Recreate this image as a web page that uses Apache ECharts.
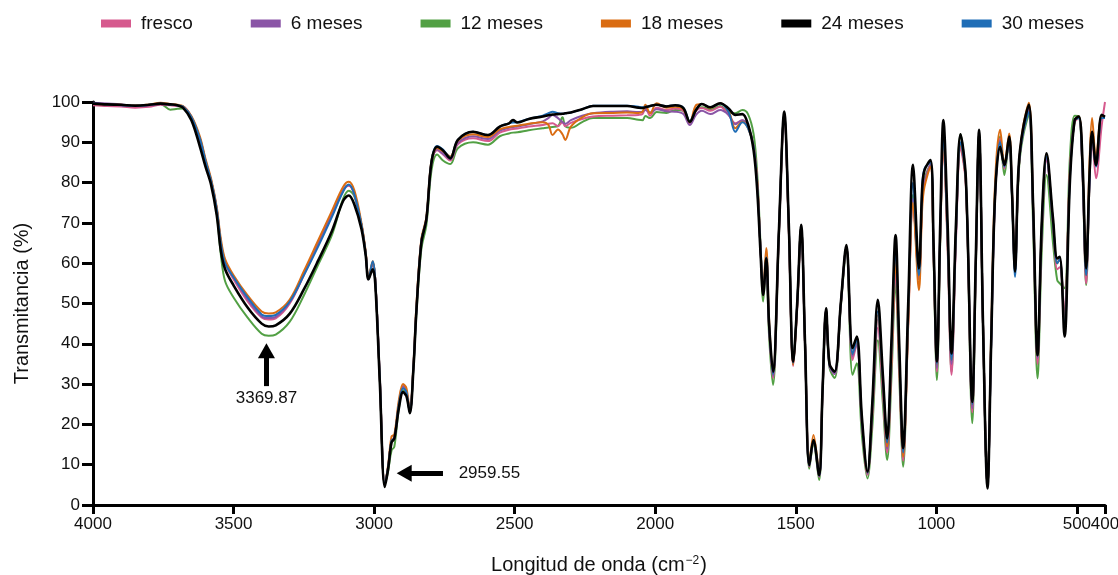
<!DOCTYPE html>
<html>
<head>
<meta charset="utf-8">
<style>
  html, body { margin: 0; padding: 0; background: #fff; }
  #chart { width: 1118px; height: 575px; }
</style>
<script src="https://cdn.jsdelivr.net/npm/echarts@6.0.0/dist/echarts.min.js"></script>
</head>
<body>
<div id="chart"></div>
<script>
// numero de onda (cm-1), comun a todas las muestras
const wavenumber = [
  4000, 3950, 3900, 3850, 3800, 3760, 3725, 3700, 3680, 3650,
  3620, 3600, 3580, 3560, 3545, 3530, 3500, 3450, 3400, 3375,
  3350, 3300, 3250, 3200, 3150, 3110, 3090, 3070, 3045, 3030,
  3020, 3005, 2996, 2980, 2962, 2950, 2938, 2928, 2912, 2897,
  2885, 2873, 2860, 2850, 2832, 2814, 2796, 2776, 2755, 2729,
  2702, 2648, 2595, 2553, 2520, 2506, 2490, 2450, 2400, 2380,
  2365, 2346, 2330, 2320, 2300, 2260, 2221, 2150, 2100, 2060,
  2045, 2035, 2018, 1995, 1960, 1929, 1900, 1877, 1855, 1834,
  1804, 1769, 1739, 1715, 1690, 1670, 1650, 1637, 1625, 1616,
  1605, 1595, 1581, 1560, 1541, 1525, 1509, 1495, 1481, 1467,
  1452, 1437, 1417, 1405, 1392, 1380, 1362, 1340, 1320, 1298,
  1283, 1265, 1245, 1228, 1208, 1190, 1175, 1160, 1145, 1132,
  1118, 1100, 1083, 1062, 1050, 1042, 1021, 1010, 998, 986,
  975, 960, 946, 930, 914, 895, 872, 860, 848, 834,
  818, 805, 791, 773, 758, 741, 731, 720, 710, 703,
  690, 671, 656, 640, 625, 608, 585, 570, 561, 544,
  525, 508, 493, 480, 467, 455, 446, 432, 412, 400
];

const fresco = [
  99.2, 99.0, 98.9, 98.6, 98.8, 99.3, 99.2, 99.0, 98.9, 96.3,
  91.0, 85.5, 80.5, 73.5, 65.0, 60.0, 56.0, 50.5, 46.5, 46.0,
  46.3, 50.0, 57.0, 64.5, 72.0, 78.0, 79.2, 77.0, 69.5, 62.5,
  56.0, 60.0, 56.0, 32.0, 5.0, 9.5, 16.0, 16.5, 25.0, 29.5,
  28.0, 23.2, 34.5, 48.0, 65.5, 71.0, 85.0, 88.0, 87.0, 85.5,
  89.5, 91.0, 90.3, 92.4, 93.1, 93.3, 93.4, 93.9, 94.3, 94.6,
  94.7, 94.0, 95.0, 94.0, 94.8, 95.8, 96.4, 96.6, 96.7, 96.8,
  97.0, 98.6, 96.6, 98.6, 98.0, 98.4, 97.8, 94.8, 97.8, 98.5,
  97.8, 98.8, 96.8, 94.7, 95.5, 94.0, 89.0, 80.0, 63.0, 52.0,
  61.0, 44.0, 31.5, 67.0, 96.5, 68.5, 34.5, 49.0, 68.5, 39.5,
  9.5, 15.5, 7.0, 27.5, 48.5, 34.5, 32.5, 49.5, 64.0, 36.0,
  40.0, 20.5, 7.5, 22.0, 44.0, 28.0, 13.0, 34.0, 58.0, 34.0,
  11.0, 45.0, 75.3, 56.0, 76.0, 80.0, 84.5, 63.0, 33.1, 67.0,
  88.5, 64.0, 32.3, 66.0, 88.5, 79.5, 23.0, 58.0, 92.0, 45.0,
  4.5, 40.0, 76.0, 91.0, 83.5, 90.5, 77.5, 58.0, 79.0, 87.0,
  93.0, 98.0, 73.0, 35.0, 67.0, 85.5, 70.0, 58.5, 59.0, 47.5,
  83.0, 95.0, 96.0, 82.0, 55.0, 80.0, 91.5, 81.1, 94.0, 100.0
];

const meses6 = [
  99.8, 99.6, 99.4, 99.0, 99.2, 99.5, 99.3, 99.1, 98.9, 96.3,
  91.0, 85.5, 80.5, 73.5, 65.0, 60.5, 56.5, 51.0, 46.8, 46.4,
  46.7, 50.3, 57.3, 64.8, 72.3, 78.2, 79.4, 77.0, 69.5, 62.5,
  56.0, 60.0, 56.0, 32.0, 5.0, 9.5, 16.0, 16.5, 25.0, 29.5,
  28.0, 23.2, 34.5, 48.0, 65.5, 71.0, 85.0, 88.2, 87.2, 85.8,
  89.8, 91.5, 90.8, 92.9, 93.6, 93.8, 93.9, 94.5, 95.2, 96.0,
  96.8, 96.0, 95.0, 94.6, 95.5, 96.6, 97.2, 97.6, 97.7, 97.5,
  97.6, 98.0, 97.4, 98.2, 97.7, 97.6, 97.0, 94.3, 96.8, 97.8,
  97.0, 98.0, 96.8, 94.5, 95.5, 94.0, 89.0, 80.0, 63.0, 52.5,
  61.5, 44.5, 32.0, 67.5, 96.8, 69.0, 35.0, 49.5, 69.0, 40.0,
  9.8, 16.0, 7.2, 27.5, 48.5, 34.5, 32.5, 49.5, 64.0, 37.0,
  40.0, 20.5, 7.8, 23.0, 46.0, 29.0, 14.0, 37.0, 62.0, 37.0,
  12.5, 46.0, 76.0, 56.0, 76.0, 80.0, 84.5, 63.0, 34.0, 68.0,
  90.0, 66.0, 35.0, 67.0, 89.5, 80.0, 24.0, 58.5, 92.3, 45.0,
  4.5, 40.0, 77.0, 90.5, 84.0, 90.5, 77.5, 58.0, 79.0, 87.0,
  93.5, 98.5, 74.0, 36.5, 68.0, 86.0, 70.0, 60.0, 61.0, 46.0,
  82.0, 95.5, 96.0, 83.0, 57.0, 81.0, 92.0, 84.0, 96.0, 96.0
];

const meses12 = [
  99.5, 99.3, 99.1, 99.0, 99.2, 99.5, 98.1, 98.3, 98.4, 95.8,
  90.0, 85.0, 80.0, 72.5, 62.0, 55.5, 51.5, 46.5, 42.5, 42.0,
  42.3, 45.5, 52.0, 59.5, 67.0, 76.0, 78.0, 76.5, 69.5, 62.5,
  56.0, 60.0, 56.0, 31.5, 5.0, 8.5, 13.5, 14.5, 24.0, 28.5,
  27.5, 23.0, 34.0, 47.0, 63.5, 69.5, 83.0, 87.0, 85.5, 84.6,
  88.5, 90.0, 89.4, 91.5, 92.2, 92.4, 92.5, 93.0, 93.5, 93.7,
  93.8, 94.0, 96.2, 94.0, 93.6, 95.0, 96.0, 96.0, 96.0, 95.6,
  95.5, 96.5, 96.0, 97.5, 97.3, 98.0, 97.8, 94.8, 98.0, 98.7,
  98.2, 99.0, 97.5, 97.2, 98.0, 97.0, 92.0, 82.0, 64.0, 50.5,
  60.0, 42.0, 29.8, 67.0, 97.0, 69.0, 35.0, 49.5, 69.0, 40.0,
  9.0, 15.0, 6.2, 27.0, 48.3, 34.0, 31.5, 49.0, 63.5, 32.3,
  35.2, 17.5, 6.6, 19.0, 40.9, 25.0, 11.2, 31.0, 55.4, 32.0,
  9.5, 46.0, 77.0, 56.0, 77.0, 81.0, 84.5, 62.0, 31.0, 66.0,
  90.0, 65.0, 33.0, 68.0, 92.0, 80.5, 20.3, 57.0, 92.5, 45.0,
  4.5, 40.0, 77.0, 91.5, 81.9, 90.5, 77.0, 58.0, 78.0, 86.0,
  92.0, 96.8, 70.0, 31.4, 63.0, 81.9, 65.0, 55.8, 55.0, 53.8,
  86.0, 96.6, 96.5, 82.0, 54.6, 80.0, 91.5, 85.0, 96.0, 96.0
];

const meses18 = [
  99.5, 99.4, 99.3, 99.1, 99.4, 99.8, 99.5, 99.3, 99.0, 96.5,
  91.5, 86.0, 81.0, 74.0, 66.0, 61.0, 57.0, 52.0, 48.0, 47.5,
  47.8, 51.0, 58.0, 65.5, 73.0, 79.0, 80.2, 78.0, 70.0, 63.0,
  56.5, 60.5, 56.0, 32.0, 5.0, 10.0, 17.0, 17.5, 26.0, 30.0,
  29.0, 23.5, 35.0, 49.0, 66.0, 71.5, 85.5, 88.6, 87.8, 86.5,
  90.4, 92.0, 91.3, 93.2, 93.8, 94.0, 94.1, 94.6, 95.0, 94.3,
  91.8, 93.2, 92.0, 90.6, 93.9, 96.2, 97.2, 97.3, 97.4, 97.3,
  97.6, 99.3, 97.2, 99.7, 98.6, 98.8, 98.2, 95.0, 99.2, 99.5,
  98.5, 99.7, 97.8, 93.5, 95.1, 93.5, 89.0, 80.0, 63.0, 54.0,
  63.8, 46.0, 33.0, 68.0, 97.0, 69.0, 34.8, 49.5, 69.0, 40.0,
  10.5, 17.4, 8.0, 28.0, 48.5, 35.0, 33.0, 49.8, 64.0, 37.5,
  41.0, 21.0, 8.0, 23.5, 47.1, 30.0, 14.5, 36.0, 60.4, 36.0,
  12.0, 45.0, 75.0, 53.3, 74.0, 79.0, 84.0, 63.0, 35.0, 67.0,
  89.3, 66.0, 36.0, 68.0, 89.5, 80.0, 25.0, 59.0, 92.5, 45.0,
  4.5, 42.0, 80.0, 93.1, 84.5, 92.2, 78.0, 58.0, 79.0, 87.0,
  94.5, 99.8, 75.0, 37.0, 69.0, 87.0, 70.0, 60.0, 61.0, 45.0,
  82.0, 95.5, 96.4, 84.0, 57.0, 85.0, 96.0, 86.0, 96.5, 96.5
];

const meses24 = [
  99.6, 99.4, 99.3, 99.1, 99.3, 99.6, 99.4, 99.2, 98.6, 95.5,
  89.0, 84.0, 79.5, 72.0, 63.0, 58.5, 54.5, 49.0, 45.0, 44.3,
  44.6, 47.5, 53.5, 60.5, 68.0, 75.5, 76.8, 74.5, 68.5, 62.0,
  56.0, 58.5, 55.0, 31.0, 4.5, 9.0, 15.5, 16.5, 24.0, 28.0,
  27.0, 22.8, 34.0, 47.6, 65.0, 71.0, 85.0, 88.9, 88.0, 86.0,
  90.6, 92.6, 91.8, 93.9, 94.7, 95.5, 94.9, 95.8, 96.4, 96.7,
  96.9, 97.0, 97.1, 97.2, 97.4, 98.2, 99.0, 99.0, 99.0, 98.6,
  98.5, 98.7, 99.0, 99.3, 98.9, 99.2, 98.5, 95.1, 98.0, 99.5,
  98.7, 99.7, 98.4, 96.8, 97.0, 94.5, 88.0, 78.0, 62.0, 52.1,
  61.2, 45.0, 33.1, 68.0, 97.6, 70.0, 35.6, 50.0, 69.5, 40.0,
  9.9, 16.1, 7.4, 28.0, 48.8, 35.0, 33.1, 50.0, 64.5, 38.9,
  41.8, 22.0, 8.3, 25.0, 50.9, 32.0, 16.5, 40.0, 67.0, 40.0,
  14.1, 50.0, 84.4, 58.7, 79.0, 83.1, 85.6, 65.0, 35.6, 70.0,
  95.5, 70.0, 37.6, 70.0, 92.0, 81.1, 25.6, 60.0, 93.1, 45.0,
  4.1, 40.0, 76.9, 88.9, 84.4, 91.4, 78.0, 57.9, 80.0, 87.7,
  94.0, 99.3, 75.0, 37.2, 70.0, 87.3, 71.1, 61.2, 61.6, 41.8,
  80.0, 95.5, 96.4, 85.0, 58.7, 82.0, 92.6, 84.4, 96.8, 96.3
];

const meses30 = [
  99.6, 99.4, 99.2, 99.0, 99.3, 99.6, 99.4, 99.2, 98.9, 96.3,
  91.0, 85.5, 80.5, 73.5, 65.0, 60.0, 56.5, 51.5, 47.3, 46.9,
  47.2, 50.5, 57.0, 64.0, 71.5, 77.8, 79.5, 77.0, 69.5, 62.5,
  56.0, 60.5, 56.0, 32.0, 5.0, 9.5, 16.0, 16.5, 25.0, 29.0,
  28.0, 23.0, 34.5, 48.0, 65.5, 71.0, 85.3, 89.1, 88.2, 86.2,
  90.6, 92.6, 91.8, 93.9, 94.7, 94.9, 95.0, 95.8, 96.6, 97.2,
  97.6, 97.2, 97.1, 97.2, 97.4, 98.2, 99.1, 99.1, 99.1, 98.8,
  98.7, 98.8, 99.0, 99.3, 99.0, 99.2, 98.6, 95.2, 98.0, 99.5,
  98.7, 99.6, 97.5, 92.6, 95.0, 93.5, 89.0, 79.0, 63.0, 52.5,
  61.5, 45.0, 32.5, 68.0, 97.2, 69.5, 35.3, 50.0, 69.0, 40.0,
  9.8, 16.0, 7.3, 28.0, 48.5, 34.8, 33.0, 49.8, 64.0, 37.5,
  41.0, 21.0, 8.0, 24.0, 48.0, 31.0, 15.5, 38.0, 64.0, 38.0,
  13.0, 48.0, 80.0, 57.0, 79.0, 83.5, 85.0, 64.0, 35.0, 68.0,
  91.0, 67.0, 36.0, 68.0, 90.0, 80.5, 25.0, 59.0, 92.5, 45.0,
  4.5, 40.0, 77.0, 90.0, 84.0, 90.5, 77.0, 56.6, 79.0, 87.0,
  93.0, 97.5, 74.0, 37.0, 69.0, 86.5, 70.0, 60.0, 61.0, 44.0,
  81.0, 95.5, 96.0, 83.0, 57.0, 81.0, 92.0, 84.0, 96.0, 96.0
];

const seriesNames = ['fresco', '6 meses', '12 meses', '18 meses', '24 meses', '30 meses'];
const seriesColors = ['#d65a8e', '#8a55a6', '#52a044', '#da6c12', '#000000', '#1f6db6'];
const xTicks = [4000, 3500, 3000, 2500, 2000, 1500, 1000, 500, 400];
const xLabelsMain = [4000, 3500, 3000, 2500, 2000, 1500, 1000, 500];
const xLabelsEnd = [400];

// flechas y etiquetas de los picos marcados
const peakOH = { label: '3369.87', x: 3383, arrowFrom: 29.5, arrowTo: 38.3, textY: 26.5 };
const peakCH = { label: '2959.55', y: 7.9, arrowFrom: 2755, arrowTo: 2893, textX: 2590 };

const font = '"Liberation Sans", Arial, sans-serif';
const allValues = [fresco, meses6, meses12, meses18, meses24, meses30];
const zOrder = [3, 4, 2, 5, 8, 6];

const chart = echarts.init(document.getElementById('chart'));

const series = seriesNames.map((name, i) => {
  const s = {
    name: name,
    type: 'line',
    xAxisIndex: 0,
    data: wavenumber.map((w, k) => [w, allValues[i][k]]),
    smooth: 0.35,
    showSymbol: false,
    symbol: 'none',
    z: zOrder[i],
    color: seriesColors[i],
    lineStyle: { color: seriesColors[i], width: name === '24 meses' ? 2.6 : 2 },
    emphasis: { disabled: true }
  };
  if (name === '24 meses') {
    s.markLine = {
      silent: true,
      symbol: ['none', 'triangle'],
      symbolSize: [17, 15],
      label: { show: false },
      lineStyle: { color: '#000', width: 5, type: 'solid' },
      emphasis: { disabled: true },
      data: [
        [{ coord: [peakOH.x, peakOH.arrowFrom] }, { coord: [peakOH.x, peakOH.arrowTo] }],
        [{ coord: [peakCH.arrowFrom, peakCH.y] }, { coord: [peakCH.arrowTo, peakCH.y] }]
      ]
    };
    s.markPoint = {
      silent: true,
      symbol: 'circle',
      symbolSize: 0,
      label: {
        show: true,
        position: 'inside',
        color: '#111',
        fontSize: 17,
        fontFamily: font,
        formatter: p => p.name
      },
      data: [
        { name: peakOH.label, coord: [peakOH.x, peakOH.textY] },
        { name: peakCH.label, coord: [peakCH.textX, peakCH.y] }
      ]
    };
  }
  return s;
});

const xLabelStyle = { fontSize: 17, color: '#111', margin: 11, formatter: v => String(v) };

chart.setOption({
  animation: false,
  backgroundColor: '#fff',
  textStyle: { fontFamily: font },
  legend: {
    data: seriesNames,
    left: 96,
    top: 9,
    icon: 'rect',
    itemWidth: 30,
    itemHeight: 8,
    itemGap: 58,
    textStyle: { fontSize: 19, color: '#111', fontFamily: font, padding: [0, 0, 0, 5] }
  },
  grid: { left: 93, right: 13, top: 102, bottom: 70, containLabel: false, outerBoundsMode: 'none' },
  xAxis: [
    {
      type: 'value',
      min: 400,
      max: 4000,
      inverse: true,
      position: 'bottom',
      name: 'Longitud de onda (cm{sup|−2})',
      nameLocation: 'middle',
      nameGap: 50,
      nameTextStyle: {
        fontSize: 20,
        color: '#111',
        fontFamily: font,
        rich: {
          sup: { fontSize: 12, verticalAlign: 'top', padding: [0, 1, 8, 1], color: '#111', fontFamily: font }
        }
      },
      axisLine: { show: true, onZero: false, lineStyle: { color: '#000', width: 3 } },
      axisTick: { show: true, length: 9, lineStyle: { color: '#000', width: 3 }, customValues: xTicks },
      axisLabel: Object.assign({ customValues: xLabelsMain }, xLabelStyle),
      splitLine: { show: false }
    },
    {
      // solo la etiqueta final "400", pegada a la de 500
      type: 'value',
      min: 400,
      max: 4000,
      inverse: true,
      position: 'bottom',
      offset: 0,
      axisLine: { show: false },
      axisTick: { show: false },
      axisLabel: Object.assign({ customValues: xLabelsEnd, showMaxLabel: true, showMinLabel: true }, xLabelStyle),
      splitLine: { show: false }
    }
  ],
  yAxis: {
    type: 'value',
    min: 0,
    max: 100,
    interval: 10,
    name: 'Transmitancia (%)',
    nameLocation: 'middle',
    nameGap: 61,
    nameTextStyle: { fontSize: 20, color: '#111', fontFamily: font },
    axisLine: { show: true, lineStyle: { color: '#000', width: 3 } },
    axisTick: { show: true, length: 11, lineStyle: { color: '#000', width: 3 } },
    axisLabel: { fontSize: 17, color: '#111', margin: 13 },
    splitLine: { show: false }
  },
  series: series
});
</script>
</body>
</html>
